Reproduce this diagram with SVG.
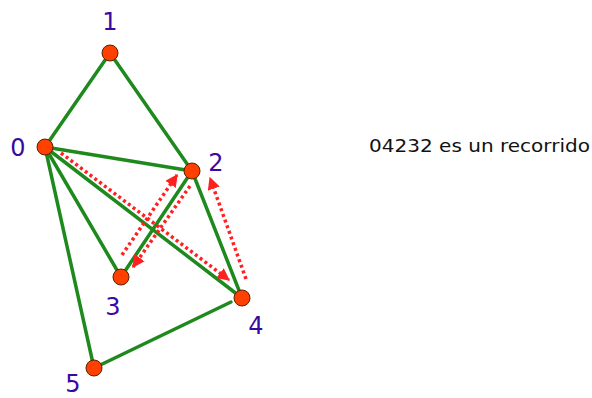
<svg xmlns="http://www.w3.org/2000/svg" width="592" height="398" viewBox="0 0 592 398">
<defs>
<style>
.edge{stroke:#1e8a1e;stroke-width:3.5;stroke-linecap:round;fill:none}
.walk{stroke:#ff2020;stroke-width:3.5;stroke-dasharray:3 3;fill:none}
.node{fill:#ff4000;stroke:#5a2000;stroke-width:1}
.lbl{font-family:"DejaVu Sans","Liberation Sans",sans-serif;font-size:24px;fill:#3a0aa0;text-anchor:middle}
.cap{font-family:"DejaVu Sans","Liberation Sans",sans-serif;font-size:17px;fill:#111}
</style>
<marker id="ah" viewBox="0 0 10 10" refX="9" refY="5" markerWidth="3.6" markerHeight="3.6" orient="auto" markerUnits="strokeWidth">
<path d="M0,0 L10,5 L0,10 Z" fill="#ff2020"/>
</marker>
</defs>
<g id="edges">
<line class="edge" x1="45" y1="147" x2="110" y2="53"/>
<line class="edge" x1="110" y1="53" x2="192" y2="171"/>
<line class="edge" x1="45" y1="147" x2="192" y2="171"/>
<line class="edge" x1="45" y1="147" x2="121" y2="277"/>
<line class="edge" x1="45" y1="147" x2="242" y2="298"/>
<line class="edge" x1="45" y1="147" x2="94" y2="368"/>
<line class="edge" x1="192" y1="171" x2="121" y2="277"/>
<line class="edge" x1="192" y1="171" x2="242" y2="298"/>
<line class="edge" x1="231" y1="302" x2="94" y2="368"/>
</g>
<g id="walk">
<line class="walk" x1="61" y1="153" x2="229" y2="280" marker-end="url(#ah)"/>
<line class="walk" x1="246" y1="279" x2="210" y2="178" marker-end="url(#ah)"/>
<line class="walk" x1="190" y1="186" x2="133" y2="267" marker-end="url(#ah)"/>
<line class="walk" x1="122" y1="255" x2="177" y2="175" marker-end="url(#ah)"/>
</g>
<g id="n0"><circle class="node" cx="45" cy="147" r="8"/><text class="lbl" x="18" y="156">0</text></g>
<g id="n1"><circle class="node" cx="110" cy="53" r="8"/><text class="lbl" x="110" y="30">1</text></g>
<g id="n2"><circle class="node" cx="192" cy="171" r="8"/><text class="lbl" x="216" y="171">2</text></g>
<g id="n3"><circle class="node" cx="121" cy="277" r="8"/><text class="lbl" x="113" y="315">3</text></g>
<g id="n4"><circle class="node" cx="242" cy="298" r="8"/><text class="lbl" x="256" y="334">4</text></g>
<g id="n5"><circle class="node" cx="94" cy="368" r="8"/><text class="lbl" x="73" y="392">5</text></g>
<text class="cap" x="369" y="152" textLength="221" lengthAdjust="spacingAndGlyphs">04232 es un recorrido</text>
</svg>
